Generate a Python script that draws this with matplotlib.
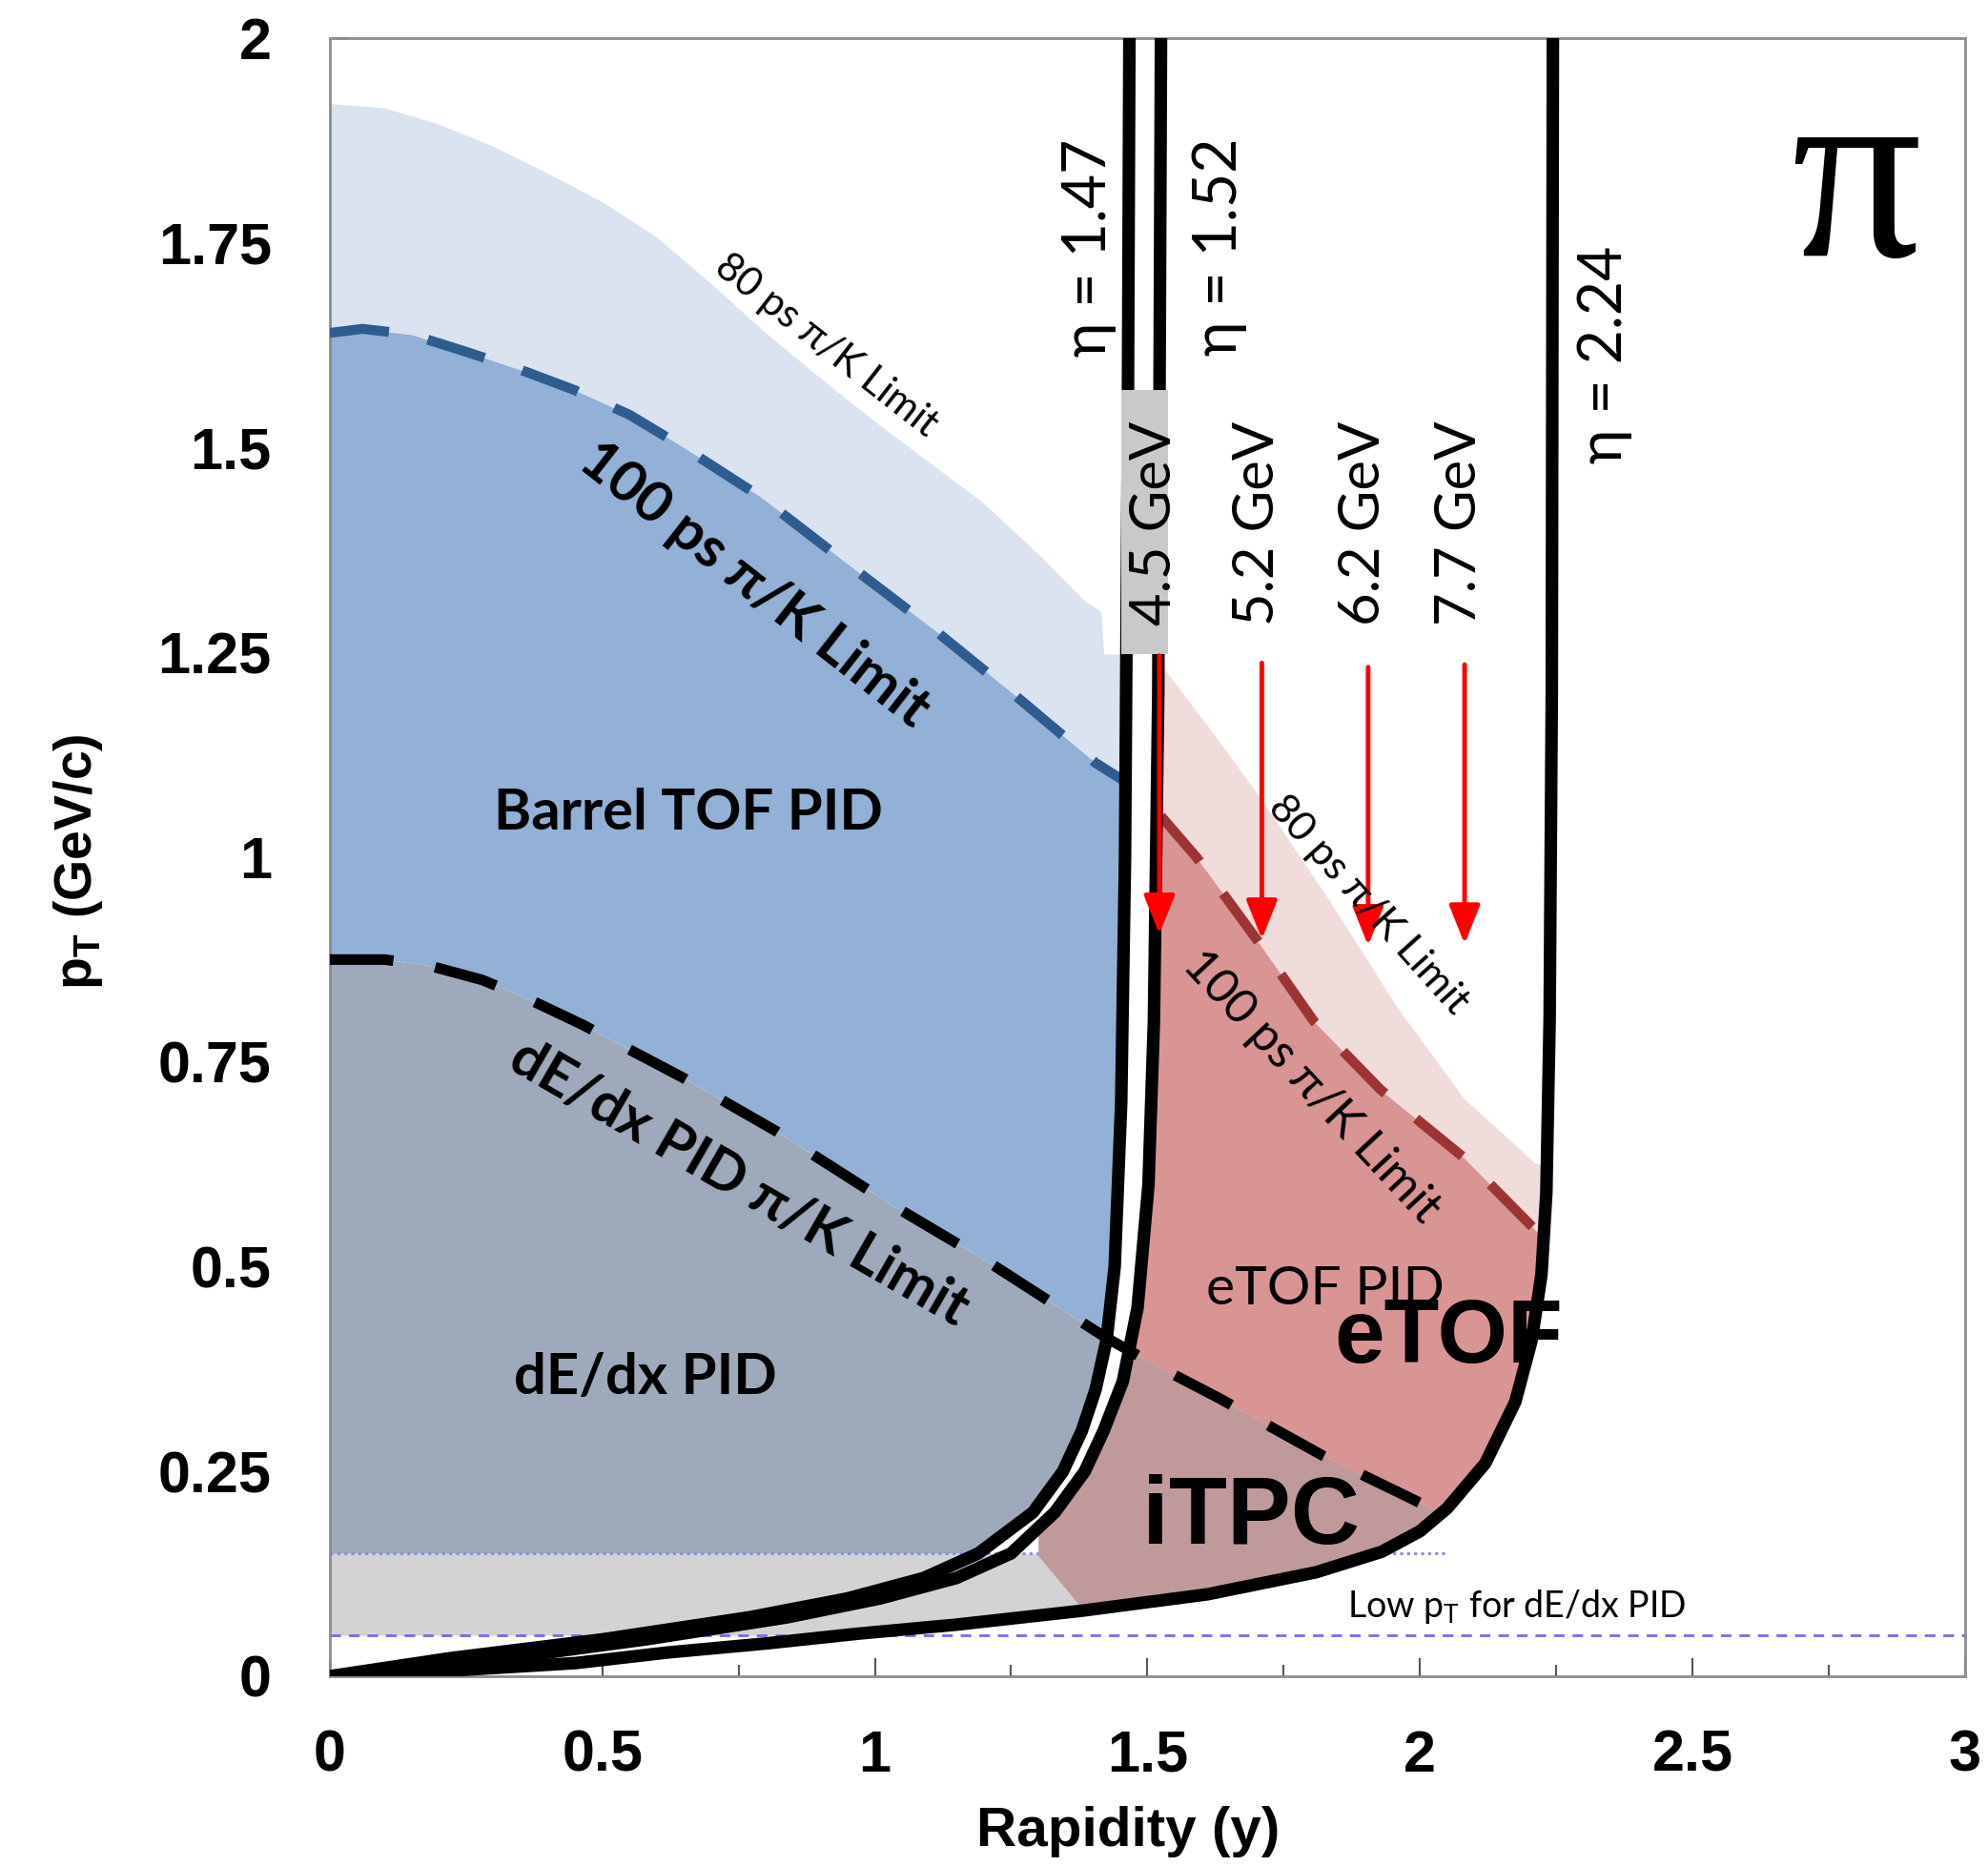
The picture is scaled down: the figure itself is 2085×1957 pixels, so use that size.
import numpy as np
import matplotlib
matplotlib.use('Agg')
import matplotlib.pyplot as plt
from matplotlib.patches import Rectangle

plt.rcParams['font.family'] = ['Liberation Sans', 'DejaVu Sans']
CALIBRI = ['Lato', 'DejaVu Sans']

##############################################################################
# curves: rapidity (x) and pT in GeV/c (y)

# acceptance edges, fixed pseudorapidity
rap_eta147 = [0, 0.22, 0.50, 0.77, 0.95, 1.09, 1.19, 1.29, 1.345, 1.38, 1.405, 1.425, 1.440, 1.452, 1.459, 1.464, 1.467]
pt_eta147 = [0, 0.022, 0.045, 0.072, 0.095, 0.12, 0.15, 0.20, 0.25, 0.30, 0.35, 0.41, 0.50, 0.70, 1.0, 1.5, 2.0]

rap_eta152 = [0, 0.30, 0.58, 0.84, 1.01, 1.15, 1.25, 1.33, 1.385, 1.42, 1.455, 1.482, 1.502, 1.512, 1.52, 1.525]
pt_eta152 = [0, 0.02, 0.045, 0.072, 0.095, 0.12, 0.15, 0.20, 0.25, 0.30, 0.36, 0.45, 0.60, 0.80, 1.2, 2.0]

rap_eta224 = [0, 0.15, 0.3, 0.45, 0.62, 0.8, 0.97, 1.15, 1.38, 1.61, 1.81, 1.93, 2.0, 2.05, 2.12, 2.175, 2.205, 2.223, 2.232, 2.238, 2.242, 2.244]
pt_eta224 = [0, 0.004, 0.01, 0.016, 0.029, 0.04, 0.052, 0.063, 0.08, 0.10, 0.127, 0.152, 0.177, 0.205, 0.26, 0.335, 0.41, 0.49, 0.59, 0.8, 1.2, 2.0]

# barrel TOF pi/K limits
rap_tof80 = [0, 0.1, 0.2, 0.3, 0.4, 0.5, 0.6, 0.7, 0.8, 0.9, 1.0, 1.1, 1.2, 1.3, 1.385, 1.415, 1.42, 1.47]
pt_tof80 = [1.92, 1.915, 1.895, 1.868, 1.835, 1.80, 1.757, 1.70, 1.64, 1.585, 1.532, 1.482, 1.432, 1.37, 1.313, 1.30, 1.248, 1.248]

rap_tof100 = [0, 0.06, 0.15, 0.25, 0.35, 0.45, 0.55, 0.65, 0.79, 0.95, 1.11, 1.26, 1.405, 1.455]
pt_tof100 = [1.64, 1.645, 1.638, 1.617, 1.595, 1.57, 1.54, 1.50, 1.44, 1.358, 1.277, 1.196, 1.115, 1.094]

# dE/dx pi/K limit
rap_dedx = [0, 0.1, 0.18, 0.28, 0.37, 0.465, 0.55, 0.65, 0.82, 1.02, 1.21, 1.42, 1.50, 1.63, 1.82, 1.99, 2.05]
pt_dedx = [0.875, 0.875, 0.868, 0.85, 0.825, 0.795, 0.765, 0.73, 0.665, 0.58, 0.505, 0.415, 0.385, 0.34, 0.27, 0.215, 0.195]

# eTOF pi/K limits
rap_etof80 = [1.525, 1.621, 1.713, 1.836, 1.958, 2.081, 2.173, 2.21, 2.237]
pt_etof80 = [1.235, 1.151, 1.067, 0.945, 0.817, 0.705, 0.650, 0.627, 0.62]

rap_etof100 = [1.525, 1.59, 1.70, 1.805, 1.928, 2.081, 2.222, 2.237]
pt_etof100 = [1.05, 1.0, 0.90, 0.80, 0.716, 0.633, 0.538, 0.53]

# left edge of the iTPC gain region
rap_itpc_edge = [1.30, 1.39]
pt_itpc_edge = [0.147, 0.075]

# low pT band for dE/dx PID
lowpt_band = [0.05, 0.15]

# fixed-target energies and their arrows
energies = ['4.5 GeV', '5.2 GeV', '6.2 GeV', '7.7 GeV']
arrow_rap = [1.522, 1.71, 1.905, 2.082]
arrow_top = [1.246, 1.237, 1.232, 1.235]
arrow_tip = [0.906, 0.900, 0.892, 0.894]

# axis ticks
x_ticks = [0, 0.5, 1, 1.5, 2, 2.5, 3]
x_ticklabels = ['0', '0.5', '1', '1.5', '2', '2.5', '3']
y_ticks = [0, 0.25, 0.5, 0.75, 1, 1.25, 1.5, 1.75, 2]
y_ticklabels = ['0', '0.25', '0.5', '0.75', '1', '1.25', '1.5', '1.75', '2']

##############################################################################
fig = plt.figure(figsize=(20.85, 19.57), dpi=100)
ax = fig.add_axes([0.1659, 0.1017, 0.8225, 0.8779])
ax.set_xlim(0, 3)
ax.set_ylim(0, 2)
ax.set_axisbelow(True)


def band(x, lower, upper, color, z=1):
    ax.fill_between(x, lower, np.maximum(upper, lower), color=color, lw=0, zorder=z)


#barrel side (left of eta = 1.47)
xb = np.linspace(0, rap_eta147[-1], 1500)
a_b = np.interp(xb, rap_eta147, pt_eta147)
t80 = np.interp(xb, rap_tof80, pt_tof80)
t100 = np.interp(xb, rap_tof100, pt_tof100)
dd = np.interp(xb, rap_dedx, pt_dedx)
band(xb, np.maximum(t100, a_b), t80, '#dbe3f0')
band(xb, np.maximum(dd, a_b), t100, '#93b0d7')
band(xb, np.maximum(lowpt_band[1], a_b), dd, '#9eaabc')

xg = np.linspace(0, 1.40, 800)
band(xg, np.maximum(lowpt_band[0], np.interp(xg, rap_eta224, pt_eta224)), np.full_like(xg, lowpt_band[1]), '#d3d3d3')

ax.plot([0, 2.05], [lowpt_band[1]] * 2, color='#8c8ce6', lw=2.2, ls=(0, (1, 1.4)), zorder=1.5)

#forward side (right of eta = 1.52)
xf = np.linspace(1.2, rap_eta224[-1], 1500)
b_f = np.interp(xf, rap_eta152, pt_eta152)
c_f = np.interp(xf, rap_eta224, pt_eta224)
d_f = np.interp(xf, rap_dedx, pt_dedx)
e80 = np.interp(xf, rap_etof80, pt_etof80)
e100 = np.interp(xf, rap_etof100, pt_etof100)
edge = np.interp(xf, rap_itpc_edge, pt_itpc_edge, left=5.0, right=-1.0)
band(xf, np.maximum(c_f, edge), np.minimum(d_f, b_f), '#c09a9b', 1.6)
band(xf, np.maximum(d_f, c_f), np.minimum(e100, b_f), '#d99594', 1.6)
band(xf, np.maximum(e100, c_f), np.minimum(e80, b_f), '#f0dddb', 1.6)

ax.plot([0, 3], [lowpt_band[0]] * 2, color='#6f6fe6', lw=2, ls=(0, (4, 3)), zorder=1.7)

#limit lines
ax.plot(rap_tof100, pt_tof100, color='#2e5c8f', lw=7.5, dashes=(6, 4), zorder=3)
ax.plot(rap_dedx, pt_dedx, color='black', lw=8, dashes=(6, 4), zorder=3)
ax.plot(rap_etof100, pt_etof100, color='#9c3434', lw=7.5, dashes=(6, 4), zorder=3)

#eta lines
for r, p in [(rap_eta147, pt_eta147), (rap_eta152, pt_eta152), (rap_eta224, pt_eta224)]:
    ax.plot(r, p, color='black', lw=9.5, solid_capstyle='round', zorder=4)

ax.add_patch(Rectangle((1.452, 1.248), 0.086, 0.322, color='#c9c9c9', lw=0, zorder=5))

#energy arrows
for x, top, tip, lab in zip(arrow_rap, arrow_top, arrow_tip, energies):
    ax.annotate('', xy=(x, tip), xytext=(x, top),
                arrowprops=dict(arrowstyle='-|>,head_length=0.5,head_width=0.2', color='#ff0000', lw=3.5,
                                mutation_scale=50, shrinkA=0, shrinkB=0), zorder=6)
    ax.text(x - 0.008, 1.408, lab, rotation=90, ha='center', va='center',
            fontsize=43, family=CALIBRI, zorder=7)

#labels
ax.text(1.393, 1.744, 'η = 1.47', rotation=90, ha='center', va='center', fontsize=45, family=CALIBRI)
ax.text(1.632, 1.745, 'η = 1.52', rotation=90, ha='center', va='center', fontsize=45, family=CALIBRI)
ax.text(2.339, 1.614, 'η = 2.24', rotation=90, ha='center', va='center', fontsize=45, family=CALIBRI)
ax.text(2.80, 1.735, 'π', ha='center', va='baseline', fontsize=195, family=['Liberation Serif', 'DejaVu Serif'])

ax.text(0.911, 1.625, '80 ps π/K Limit', rotation=-38, rotation_mode='anchor', ha='center', va='center',
        fontsize=30, family=CALIBRI, zorder=7)
ax.text(0.778, 1.332, '100 ps π/K Limit', rotation=-38, rotation_mode='anchor', ha='center', va='center',
        fontsize=43, fontweight='bold', family=CALIBRI, zorder=7)
ax.text(0.658, 1.053, 'Barrel TOF PID', ha='center', va='center', fontsize=43, fontweight='bold',
        family=CALIBRI, zorder=7)
ax.text(0.751, 0.602, 'dE/dx PID π/K Limit', rotation=-30, rotation_mode='anchor', ha='center', va='center',
        fontsize=43, fontweight='bold', family=CALIBRI, zorder=7)
ax.text(0.579, 0.364, 'dE/dx PID', ha='center', va='center', fontsize=43, fontweight='bold',
        family=CALIBRI, zorder=7)
ax.text(1.906, 0.942, '80 ps π/K Limit', rotation=-48, rotation_mode='anchor', ha='center', va='center',
        fontsize=31, family=CALIBRI, zorder=7)
ax.text(1.801, 0.719, '100 ps π/K Limit', rotation=-47, rotation_mode='anchor', ha='center', va='center',
        fontsize=36, family=CALIBRI, zorder=7)
ax.text(1.827, 0.4716, 'eTOF PID', ha='center', va='center', fontsize=41, family=CALIBRI, zorder=7)
ax.text(2.053, 0.411, 'eTOF', ha='center', va='center', fontsize=68, fontweight='bold', zorder=7)
ax.text(1.69, 0.192, 'iTPC', ha='center', va='center', fontsize=72, fontweight='bold', zorder=7)
ax.text(2.177, 0.085, r'Low p$_\mathregular{T}$ for dE/dx PID', ha='center', va='center', fontsize=27,
        family=CALIBRI, zorder=7)

#axes
ax.set_xticks(x_ticks)
ax.set_xticklabels(x_ticklabels)
ax.set_xticks(np.arange(0.25, 3, 0.5), minor=True)
ax.set_yticks(y_ticks)
ax.set_yticklabels(y_ticklabels)
ax.set_yticks(np.arange(0.125, 2, 0.25), minor=True)
ax.tick_params(which='both', direction='in', color='#555555', width=1.5)
ax.tick_params(which='major', length=14)
ax.tick_params(which='minor', length=9)
ax.tick_params(axis='x', which='major', pad=40, labelsize=44)
ax.tick_params(axis='y', which='major', pad=44, labelsize=44)
for lab in ax.get_xticklabels() + ax.get_yticklabels():
    lab.set_fontweight('bold')
for s in ax.spines.values():
    s.set_color('#8c8c8c')
    s.set_linewidth(2)

ax.set_xlabel('Rapidity (y)', fontsize=42, fontweight='bold', va='center')
ax.xaxis.set_label_coords(0.488, -0.095)
ax.set_ylabel(r'p$_\mathregular{T}$ (GeV/c)', fontsize=40, fontweight='bold', va='center')
ax.yaxis.set_label_coords(-0.154, 0.497)

fig.savefig('out.png', dpi=100)
